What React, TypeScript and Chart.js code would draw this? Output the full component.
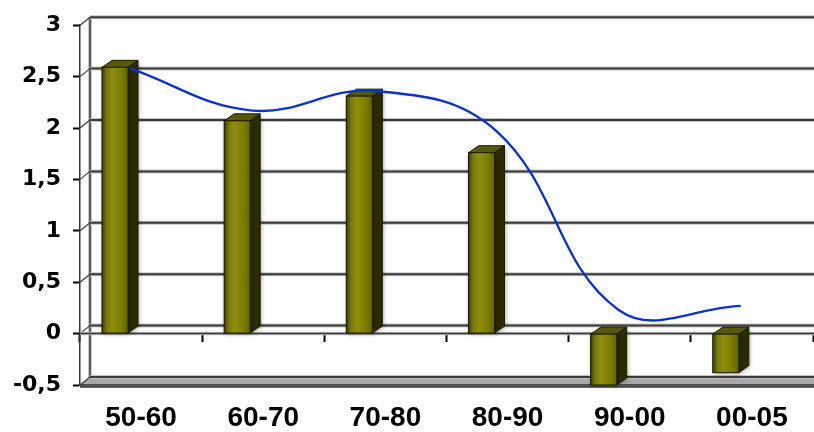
import React, { useEffect, useRef } from "react";
import { Chart, registerables } from "chart.js";

Chart.register(...registerables);

const categories = ["50-60", "60-70", "70-80", "80-90", "90-00", "00-05"];
const barValues = [2.59, 2.07, 2.31, 1.76, -0.5, -0.38];
const lineValues = [2.58, 2.17, 2.36, 1.97, 0.23, 0.27];
const yTicks = [-0.5, 0, 0.5, 1, 1.5, 2, 2.5, 3];

const DX = 10;
const DY = 8;
const BDX = 10;
const BDY = 7;

const wallPlugin = {
  id: "wall3d",
  beforeDatasetsDraw(chart: any) {
    const { ctx, chartArea, scales } = chart;
    const ys = scales.y;
    const left = chartArea.left;
    const right = chart.width;
    const top = chartArea.top;
    const bottom = chartArea.bottom;
    ctx.save();
    // floor slab
    ctx.beginPath();
    ctx.moveTo(left, bottom);
    ctx.lineTo(left + DX, bottom - DY);
    ctx.lineTo(right, bottom - DY);
    ctx.lineTo(right, bottom + 2);
    ctx.lineTo(left, bottom + 2);
    ctx.closePath();
    ctx.fillStyle = "#a8a8a8";
    ctx.fill();
    // back wall left edge
    ctx.strokeStyle = "#c8c8c8";
    ctx.lineWidth = 4;
    ctx.beginPath();
    ctx.moveTo(left + DX, top - DY);
    ctx.lineTo(left + DX, bottom - DY);
    ctx.stroke();
    ctx.strokeStyle = "#3a3a3a";
    ctx.lineWidth = 1.5;
    ctx.stroke();
    // gridlines on back wall + diagonals on side wall
    yTicks.forEach((v) => {
      const py = ys.getPixelForValue(v);
      const by = py - DY;
      ctx.strokeStyle = "#c4c4c4";
      ctx.lineWidth = 4;
      ctx.beginPath();
      ctx.moveTo(left + DX, by);
      ctx.lineTo(right, by);
      ctx.stroke();
      ctx.strokeStyle = "#3a3a3a";
      ctx.lineWidth = 2;
      ctx.stroke();
      ctx.lineWidth = 1.2;
      ctx.beginPath();
      ctx.moveTo(left, py);
      ctx.lineTo(left + DX, by);
      ctx.stroke();
    });
    // zero plane front edge
    const y0 = ys.getPixelForValue(0);
    ctx.strokeStyle = "#c4c4c4";
    ctx.lineWidth = 3.5;
    ctx.beginPath();
    ctx.moveTo(left, y0);
    ctx.lineTo(right, y0);
    ctx.stroke();
    ctx.strokeStyle = "#333";
    ctx.lineWidth = 1.5;
    ctx.stroke();
    // floor edges
    ctx.strokeStyle = "#333";
    ctx.lineWidth = 1.5;
    ctx.beginPath();
    ctx.moveTo(left, bottom);
    ctx.lineTo(right, bottom);
    ctx.stroke();
    ctx.beginPath();
    ctx.moveTo(left, bottom + 2);
    ctx.lineTo(right, bottom + 2);
    ctx.stroke();
    ctx.restore();
  },
};

const barPlugin = {
  id: "bar3d",
  afterDatasetDraw(chart: any, args: any) {
    const meta = args.meta;
    if (meta.type !== "bar") return;
    const ctx = chart.ctx;
    ctx.save();
    meta.data.forEach((el: any) => {
      const { x, y, base, width } = el.getProps(["x", "y", "base", "width"], true);
      const l = x - width / 2;
      const r = x + width / 2;
      const t = Math.min(y, base);
      const b = Math.max(y, base);
      ctx.shadowColor = "rgba(0,0,0,0.35)";
      ctx.shadowBlur = 4;
      ctx.shadowOffsetX = 1;
      ctx.shadowOffsetY = 1;
      // side face
      ctx.beginPath();
      ctx.moveTo(r, t);
      ctx.lineTo(r + BDX, t - BDY);
      ctx.lineTo(r + BDX, b - BDY);
      ctx.lineTo(r, b);
      ctx.closePath();
      ctx.fillStyle = "#2b2b00";
      ctx.fill();
      ctx.fillRect(l, t, width, b - t);
      ctx.shadowColor = "transparent";
      ctx.shadowBlur = 0;
      ctx.shadowOffsetX = 0;
      ctx.shadowOffsetY = 0;
      // top face
      ctx.beginPath();
      ctx.moveTo(l, t);
      ctx.lineTo(l + BDX, t - BDY);
      ctx.lineTo(r + BDX, t - BDY);
      ctx.lineTo(r, t);
      ctx.closePath();
      ctx.fillStyle = "#58580a";
      ctx.fill();
      ctx.strokeStyle = "#1c1c00";
      ctx.lineWidth = 1;
      ctx.stroke();
      // front face
      const g = ctx.createLinearGradient(l, 0, r, 0);
      g.addColorStop(0, "#3e3e00");
      g.addColorStop(0.18, "#7a7a04");
      g.addColorStop(0.4, "#8e8e14");
      g.addColorStop(0.75, "#7c7c00");
      g.addColorStop(1, "#626200");
      ctx.fillStyle = g;
      ctx.fillRect(l, t, width, b - t);
      ctx.strokeRect(l, t, width, b - t);
      // side outline
      ctx.beginPath();
      ctx.moveTo(r, t);
      ctx.lineTo(r + BDX, t - BDY);
      ctx.lineTo(r + BDX, b - BDY);
      ctx.lineTo(r, b);
      ctx.stroke();
    });
    ctx.restore();
  },
};

export default function App() {
  const ref = useRef<HTMLCanvasElement>(null);
  useEffect(() => {
    const canvas = ref.current!;
    const chart = new Chart(canvas, {
      type: "bar",
      data: {
        labels: categories,
        datasets: [
          {
            type: "line",
            data: lineValues.map((v, i) => ({ x: i, y: v })),
            xAxisID: "xl",
            yAxisID: "y",
            borderColor: "#0a32cc",
            borderWidth: 2.3,
            pointRadius: 0,
            tension: 0.4,
            fill: false,
            order: 0,
          } as any,
          {
            type: "bar",
            data: barValues.map((v, i) => ({ x: i, y: v })),
            xAxisID: "xb",
            yAxisID: "y",
            backgroundColor: "#808000",
            borderWidth: 0,
            grouped: false,
            categoryPercentage: 1,
            barPercentage: 0.213,
            order: 1,
          } as any,
        ],
      },
      options: {
        animation: false,
        responsive: true,
        maintainAspectRatio: false,
        layout: { padding: { left: 0, right: 1, top: 20, bottom: 0 } },
        plugins: { legend: { display: false }, tooltip: { enabled: false } },
        scales: {
          x: {
            type: "category",
            position: "bottom",
            offset: true,
            grid: { display: false, drawTicks: false },
            border: { display: false },
            ticks: {
              color: "#000",
              font: { family: '"Liberation Sans", Arial, sans-serif', size: 28, weight: "bold" },
              padding: 16,
              maxRotation: 0,
              autoSkip: false,
            },
            afterFit: (s: any) => {
              s.height = 47;
            },
          },
          xt: {
            type: "category",
            position: { y: 0 },
            offset: true,
            grid: {
              offset: true,
              drawOnChartArea: false,
              drawTicks: true,
              tickLength: 8,
              tickWidth: 2,
              tickColor: "#000",
            },
            border: { display: false },
            ticks: { display: false },
          },
          xb: {
            type: "linear",
            display: false,
            offset: false,
            bounds: "data",
            min: -0.2865,
            max: 5.7135,
            ticks: { stepSize: 1, includeBounds: false },
          },
          xl: { type: "linear", display: false, offset: false, min: -0.409, max: 5.591 },
          y: {
            type: "linear",
            position: "left",
            min: -0.5,
            max: 3,
            ticks: {
              stepSize: 0.5,
              color: "#000",
              padding: 12,
              font: { family: '"DejaVu Sans", sans-serif', size: 22, weight: "bold" },
              callback: (v: any) => String(v).replace(".", ","),
            },
            grid: { drawOnChartArea: false, tickLength: 7, tickWidth: 2, tickColor: "#000" },
            border: { display: true, color: "#333", width: 1.5 },
            afterFit: (s: any) => {
              s.width = 80;
            },
          },
        },
      } as any,
      plugins: [wallPlugin, barPlugin],
    });
    return () => chart.destroy();
  }, []);
  return (
    <div style={{ position: "absolute", left: 0, top: 0, width: 814, height: 432, background: "#fff" }}>
      <canvas ref={ref} />
    </div>
  );
}
